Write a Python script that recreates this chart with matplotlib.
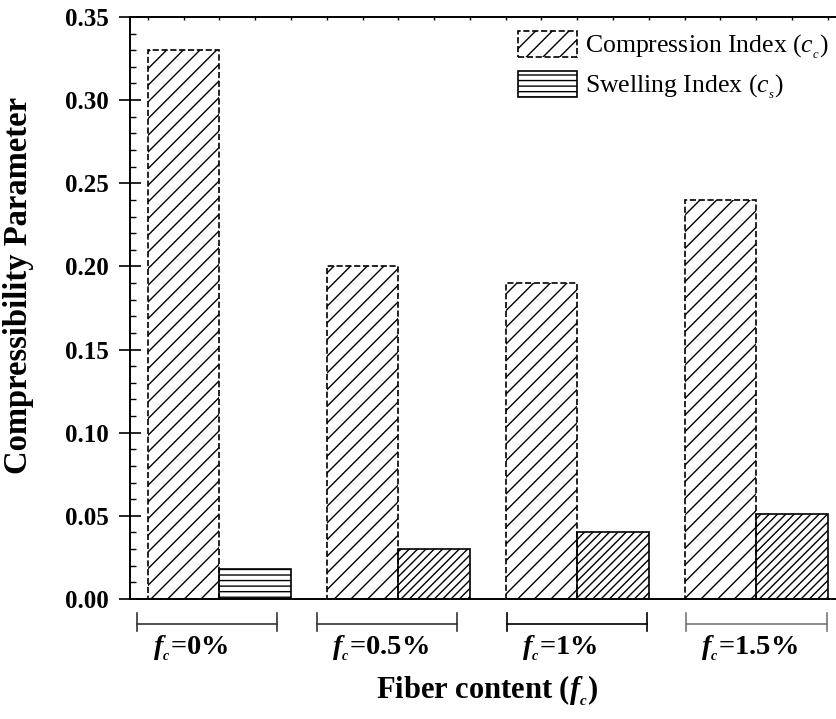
import numpy as np
import matplotlib
matplotlib.use("Agg")
import matplotlib.pyplot as plt
from matplotlib.ticker import MultipleLocator
from matplotlib.transforms import blended_transform_factory

plt.rcParams['font.family'] = 'Liberation Serif'
plt.rcParams['mathtext.fontset'] = 'custom'
plt.rcParams['mathtext.rm'] = 'Liberation Serif'
plt.rcParams['mathtext.it'] = 'Liberation Serif:italic'
plt.rcParams['mathtext.bf'] = 'Liberation Serif:bold'
plt.rcParams['mathtext.bfit'] = 'Liberation Serif:bold:italic'
plt.rcParams['hatch.linewidth'] = 1.0

# data
groups = ['0%', '0.5%', '1%', '1.5%']
cc = [0.33, 0.20, 0.19, 0.24]
cs = [0.018, 0.030, 0.040, 0.051]
cs_hatch = ['---', '////', '////', '////']

x = np.arange(1, len(groups) + 1)
w = 0.4

fig = plt.figure(figsize=(8.36, 7.19), dpi=100)
ax = fig.add_axes([0.1555, 0.1669, 0.8559, 0.8095])

# hatch drawn with solid lines, dashed outline on top
b1h = ax.bar(x - w / 2, cc, w, facecolor='none', edgecolor='black',
             hatch='//', linewidth=0)
b1 = ax.bar(x - w / 2, cc, w, facecolor='none', edgecolor='black',
            linestyle='--', linewidth=1.2)
b2 = ax.bar(x + w / 2, cs, w, facecolor='none', edgecolor='black',
            linewidth=1.2)
for p, h in zip(b2, cs_hatch):
    p.set_hatch(h)

ax.set_xlim(0.5, 4.5)
ax.set_ylim(0, 0.35)
ax.yaxis.set_major_locator(MultipleLocator(0.05))
ax.yaxis.set_minor_locator(MultipleLocator(0.01))
ax.yaxis.set_major_formatter(plt.FormatStrFormatter('%.2f'))
ax.tick_params(axis='y', which='major', direction='inout', length=16,
               width=1.2, labelsize=18, pad=7)
ax.tick_params(axis='y', which='minor', direction='in', length=4, width=1.0)
for lab in ax.get_yticklabels():
    lab.set_fontweight('bold')

ax.set_xticks([])
ax.xaxis.set_minor_locator(MultipleLocator(0.2))
ax.tick_params(axis='x', which='minor', top=True, bottom=False,
               direction='in', length=2, width=1.0)

ax.spines['right'].set_visible(False)
for s in ['left', 'bottom', 'top']:
    ax.spines[s].set_linewidth(1.4)

# group brackets below the axis
trans = blended_transform_factory(ax.transData, ax.transAxes)
bracket_left = [0.46, 0.455, 0.395, 0.39]
bracket_right = [0.32, 0.33, 0.39, 0.395]
bracket_color = ['#333333', '#333333', 'black', '#777777']
label_shift = [-0.16, -0.10, -0.10, -0.04]
for xi, g, l, r, c, s in zip(x, groups, bracket_left, bracket_right,
                             bracket_color, label_shift):
    ax.plot([xi - l, xi + r], [-0.043, -0.043], color=c, lw=1.2,
            transform=trans, clip_on=False)
    for e in (xi - l, xi + r):
        ax.plot([e, e], [-0.024, -0.055], color=c, lw=1.2,
                transform=trans, clip_on=False)
    ax.text(xi + s, -0.084, r'$\mathbfit{f}_{_{\mathbfit{c}}}$=' + g,
            transform=trans, ha='center', va='center', fontsize=20.5,
            fontweight='bold')

leg = ax.legend([(b1h[0], b1[0]), b2[0]],
                [r'Compression Index ($c_{_c}$)', r'Swelling Index ($c_{_s}$)'],
                loc='upper right', bbox_to_anchor=(0.998, 1.003), frameon=False,
                fontsize=18.5, handlelength=2.3, handleheight=1.2,
                handletextpad=0.3, labelspacing=0.4, borderaxespad=0.2)

fig.text(0.0225, 0.6036, 'Compressibility Parameter', rotation=90,
         ha='center', va='center', fontsize=23.5, fontweight='bold')
fig.text(0.583, 0.040, r'Fiber content ($\mathbfit{f}_{_{\mathbfit{c}}}$)',
         ha='center', va='center', fontsize=22, fontweight='bold')

fig.savefig('out.png', dpi=100)
